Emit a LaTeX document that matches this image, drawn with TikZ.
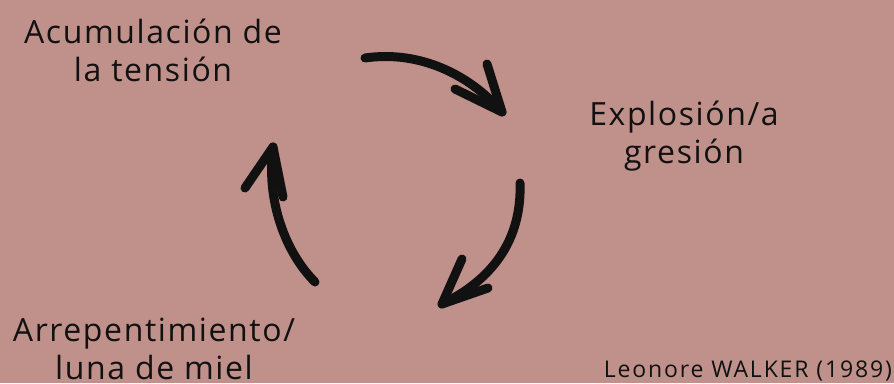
\documentclass[tikz,border=0pt]{standalone}
\usepackage{fontspec}
\setmainfont{Open Sans}
\newfontfamily\stagefont[LetterSpace=5]{Open Sans}
\newfontfamily\notefont[LetterSpace=8]{Open Sans}
\definecolor{bgrose}{RGB}{192,145,139}
\definecolor{ink}{RGB}{17,17,17}
\begin{document}
\begin{tikzpicture}[x=1pt,y=-1pt,
  label/.style={text=ink,align=center,font=\stagefont\fontsize{32}{38}\selectfont,inner sep=0pt,anchor=base},
  small/.style={text=ink,font=\notefont\fontsize{23}{27}\selectfont,inner sep=0pt,anchor=base east},
  cyc/.style={draw=ink,line width=9pt,line cap=round,line join=round}]
\fill[bgrose] (0,0) rectangle (894,383);
\useasboundingbox (0,0) rectangle (894,383);

% stage labels (anchored at the baseline of their last line)
\node[label] (acum) at (153,81) {Acumulación de\\la tensión};
\node[label] (expl) at (684,163) {Explosión/a\\gresión};
\node[label] (arre) at (154,379) {Arrepentimiento/\\luna de miel};
\node[small] (src) at (892,377) {Leonore WALKER (1989)};

% arrow end points
\coordinate (a1s) at (365,58);  \coordinate (a1t) at (502,112);
\coordinate (a1l) at (487,64);  \coordinate (a1r) at (455,89);
\coordinate (a2s) at (520,183); \coordinate (a2t) at (442,304);
\coordinate (a2l) at (462,259); \coordinate (a2r) at (488,288);
\coordinate (a3s) at (315,282); \coordinate (a3t) at (273,147);
\coordinate (a3l) at (245,188); \coordinate (a3r) at (283,197);

% cycle arrows
\draw[cyc] (a1s) .. controls (420,50) and (470,75) .. (a1t);
\draw[cyc] (a1l) -- (a1t) -- (a1r);
\draw[cyc] (a2s) .. controls (522,240) and (492,280) .. (a2t);
\draw[cyc] (a2l) -- (a2t) -- (a2r);
\draw[cyc] (a3s) .. controls (285,252) and (266,200) .. (a3t);
\draw[cyc] (a3l) -- (a3t) -- (a3r);
\end{tikzpicture}
\end{document}
